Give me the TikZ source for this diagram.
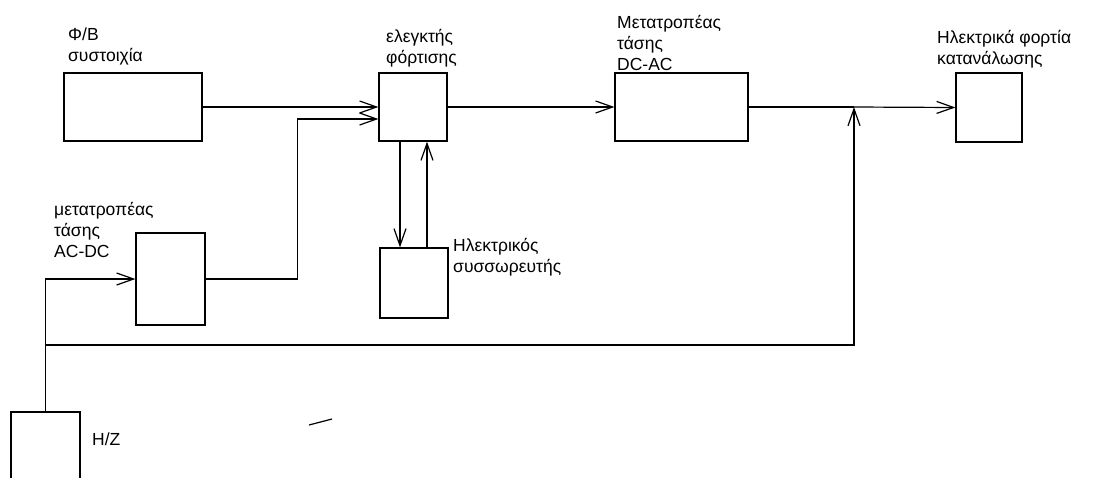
\documentclass[tikz,border=0pt]{standalone}
\usepackage{fontspec}
\setmainfont{Liberation Sans}
\usetikzlibrary{arrows.meta,positioning}
\newcommand\labelfont{\fontsize{17.5}{21}\selectfont}
\tikzset{
    sketch diagram/.style = {x=1pt, y=-1pt,
                             >={Straight Barb[length=17pt, width=12pt]}},
    line/.style           = {line width=1.2pt},
    block/.style          = {draw, line width=1.2pt, inner sep=0pt},
    caption/.style        = {font=\labelfont, align=left,
                             anchor=north west, inner sep=0pt}
}
\def\busrow{345}
\def\teecol{854}

\begin{document}
\begin{tikzpicture}[sketch diagram]
\useasboundingbox (0,0) rectangle (1099,477);
\clip (0,0) rectangle (1099,477);

% DC side: panels, charge controller, battery and rectifier.
\node[block, minimum width=138pt, minimum height=68pt] (pv) at (133,107) {};
\node[block, minimum width=68pt, minimum height=68pt] (ctrl) at (413,107) {};
\node[block, minimum width=68pt, minimum height=70pt] (batt) at (414,283) {};
\node[block, minimum width=69pt, minimum height=92pt] (acdc) at (170.5,279) {};
\node[block, minimum width=69pt, minimum height=100pt] (hz) at (45.5,462) {};
\node[caption] (pv label) at (68,28) {Φ/Β\\συστοιχία};
\node[caption] (ctrl label) at (386,29) {ελεγκτής\\φόρτισης};
\node[caption] (batt label) at (453,238) {Ηλεκτρικός\\συσσωρευτής};
\node[caption] (acdc label) at (54,202) {μετατροπέας\\τάσης\\AC-DC};
\node[caption] (hz label) at (92,433) {H/Z};

% AC side: inverter and consumer loads.
\node[block, minimum width=133pt, minimum height=68pt] (inv) at (681.5,107) {};
\node[block, minimum width=66pt, minimum height=69pt] (load) at (989,107.5) {};
\node[caption] (inv label) at (617,15) {Μετατροπέας\\τάσης\\DC-AC};
\node[caption] (load label) at (937,30) {Ηλεκτρικά φορτία\\κατανάλωσης};

\coordinate (ctrl in) at ([yshift=-12pt]ctrl.west);
\coordinate (tee) at (\teecol,107);
\draw[->, line] (pv.east) -- (ctrl.west);
\draw[->, line] (acdc.east) -| ([xshift=-81pt]ctrl in) -- (ctrl in);
\draw[->, line] ([xshift=-13pt]ctrl.south) -- ([xshift=-13pt]ctrl.south |- batt.north);
\draw[->, line] ([xshift=14pt]ctrl.south |- batt.north) -- ([xshift=14pt]ctrl.south);
\draw[->, line] (ctrl.east) -- (inv.west);
\draw[line] (inv.east) -- (tee);
\draw[->, line] (tee) -- (load.west);

% Generator feeds the rectifier and the AC bus.
\draw[->, line] (hz.north) |- (acdc.west);
\draw[->, line] (hz.north |- 0,\busrow) -| (tee);

\draw[line] (309,425) -- (332,419);

\end{tikzpicture}
\end{document}
